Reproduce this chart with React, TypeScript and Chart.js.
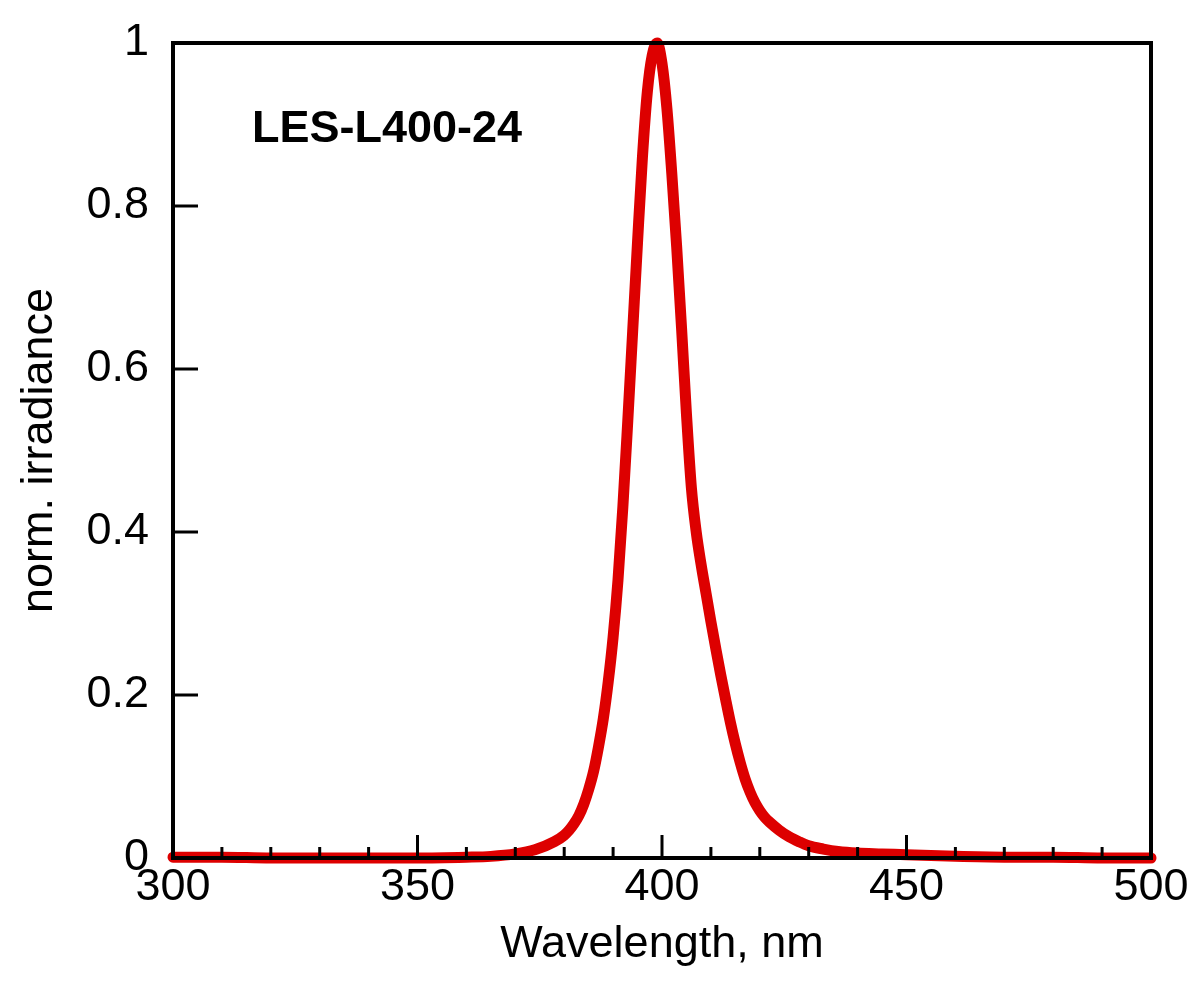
import React, { useEffect, useRef } from "react";
import { Chart, registerables } from "chart.js";

Chart.register(...registerables);

const wavelengths: number[] = [
  300, 310, 320, 330, 340, 350, 360, 365, 370, 374, 378, 380, 381, 382, 383, 384, 385,
  386, 387, 388, 389, 390, 391, 392, 393, 394, 395, 396, 397, 398, 399, 400, 401,
  402, 403, 404, 405, 406, 407, 408, 409, 410, 411, 412, 413, 414, 415, 416, 417,
  418, 419, 420, 421, 422, 424, 426, 428, 430, 433, 436, 440, 445, 450, 460, 470, 480, 490, 500,
];

const irradiance: number[] = [
  0.001, 0.001, 0.0, 0.0, 0.0, 0.0, 0.001, 0.002, 0.005, 0.01, 0.02, 0.028, 0.034, 0.042, 0.052, 0.066, 0.084,
  0.106, 0.136, 0.171, 0.216, 0.271, 0.341, 0.431, 0.536, 0.646, 0.756, 0.86, 0.94, 0.985, 1.0, 0.975, 0.92,
  0.84, 0.75, 0.65, 0.545, 0.455, 0.4, 0.36, 0.325, 0.29, 0.257, 0.225, 0.195, 0.166, 0.14, 0.117, 0.097,
  0.081, 0.068, 0.058, 0.05, 0.044, 0.034, 0.026, 0.02, 0.015, 0.011, 0.008, 0.006, 0.005, 0.004, 0.002, 0.001, 0.001, 0.0, 0.0,
];

const xTickValues: number[] = [300, 350, 400, 450, 500];
const yTickValues: number[] = [0, 0.2, 0.4, 0.6, 0.8, 1];
const xMinorStep = 10;
const annotationText = "LES-L400-24";

const FONT = "'Liberation Sans', Arial, Helvetica, sans-serif";

const framePlugin = {
  id: "framePlugin",
  afterDatasetsDraw(chart: any) {
    const { ctx, chartArea, scales } = chart;
    const { left, right, top, bottom } = chartArea;
    const xs = scales.x;
    const ys = scales.y;
    ctx.save();
    ctx.strokeStyle = "#000";
    ctx.lineWidth = 3;
    for (let v = xs.min; v <= xs.max + 1e-9; v += xMinorStep) {
      const px = xs.getPixelForValue(v);
      const major = xTickValues.includes(v);
      const len = major ? 23 : 11;
      ctx.beginPath();
      ctx.moveTo(px, bottom);
      ctx.lineTo(px, bottom - len);
      ctx.stroke();
    }
    for (const v of yTickValues) {
      const py = ys.getPixelForValue(v);
      ctx.beginPath();
      ctx.moveTo(left, py);
      ctx.lineTo(left + 25, py);
      ctx.stroke();
    }
    ctx.lineWidth = 4;
    ctx.strokeRect(left, top, right - left, bottom - top);
    ctx.fillStyle = "#000";
    ctx.font = `bold 45px ${FONT}`;
    ctx.textAlign = "left";
    ctx.textBaseline = "alphabetic";
    ctx.fillText(annotationText, 252, 142);
    ctx.restore();
  },
};

export default function App() {
  const canvasRef = useRef<HTMLCanvasElement | null>(null);

  useEffect(() => {
    if (!canvasRef.current) return;
    const chart = new Chart(canvasRef.current, {
      type: "line",
      data: {
        datasets: [
          {
            data: wavelengths.map((w, i) => ({ x: w, y: irradiance[i] })),
            borderColor: "#dd0000",
            borderWidth: 11,
            pointRadius: 0,
            fill: false,
            cubicInterpolationMode: "monotone",
            borderCapStyle: "round",
            borderJoinStyle: "round",
            clip: false as any,
          },
        ],
      },
      options: {
        animation: false,
        responsive: false,
        devicePixelRatio: 1,
        layout: { padding: { top: 43, right: 49, left: 0, bottom: 0 } },
        plugins: { legend: { display: false }, tooltip: { enabled: false } },
        scales: {
          x: {
            type: "linear",
            min: 300,
            max: 500,
            afterFit: (s: any) => {
              s.height = 135;
              s.paddingLeft = 0;
              s.paddingRight = 0;
            },
            afterBuildTicks: (s: any) => {
              s.ticks = xTickValues.map((v) => ({ value: v }));
            },
            grid: { display: false, drawTicks: false },
            border: { display: false },
            ticks: {
              color: "#000",
              font: { family: FONT, size: 45 },
              padding: 3,
              maxRotation: 0,
            },
            title: {
              display: true,
              text: "Wavelength, nm",
              color: "#000",
              font: { family: FONT, size: 45 },
              padding: { top: 0, bottom: 21 },
            },
          },
          y: {
            type: "linear",
            min: 0,
            max: 1,
            afterFit: (s: any) => {
              s.width = 173;
              s.paddingTop = 0;
              s.paddingBottom = 0;
            },
            afterBuildTicks: (s: any) => {
              s.ticks = yTickValues.map((v) => ({ value: v }));
            },
            grid: { display: false, drawTicks: false },
            border: { display: false },
            ticks: {
              color: "#000",
              font: { family: FONT, size: 45 },
              padding: 24,
              callback: (v: any) => String(Number(v)),
            },
            title: {
              display: true,
              text: "norm. irradiance",
              color: "#000",
              font: { family: FONT, size: 45 },
              padding: { top: 13, bottom: 0 },
            },
          },
        },
      },
      plugins: [framePlugin],
    });
    return () => chart.destroy();
  }, []);

  return (
    <div style={{ position: "absolute", left: 0, top: 0, width: 1200, height: 993, background: "#fff" }}>
      <canvas ref={canvasRef} width={1200} height={993} />
    </div>
  );
}
